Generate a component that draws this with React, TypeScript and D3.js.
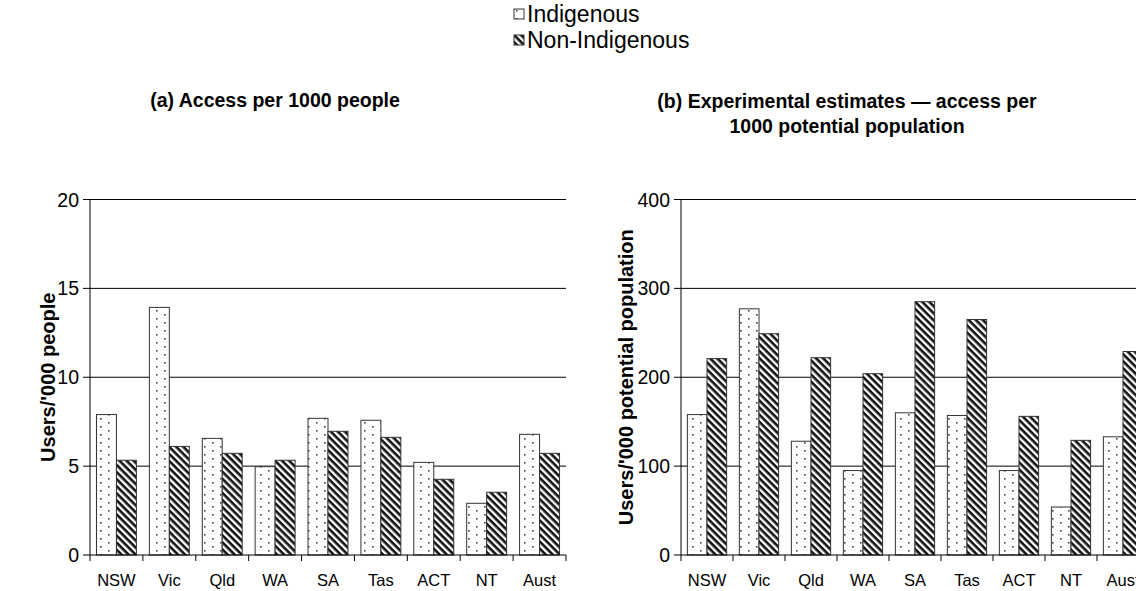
import React from "react";
import * as d3 from "d3";

const categories = ["NSW", "Vic", "Qld", "WA", "SA", "Tas", "ACT", "NT", "Aust"];
const seriesNames = ["Indigenous", "Non-Indigenous"];

const accessIndigenous = [7.9, 13.93, 6.56, 4.97, 7.69, 7.58, 5.21, 2.91, 6.79];
const accessNonIndigenous = [5.33, 6.11, 5.72, 5.33, 6.96, 6.62, 4.26, 3.53, 5.72];
const accessTicks = [0, 5, 10, 15, 20];

const potentialIndigenous = [158, 277, 128, 95, 160, 157, 95, 54, 133];
const potentialNonIndigenous = [221, 249, 222, 204, 285, 265, 156, 129, 229];
const potentialTicks = [0, 100, 200, 300, 400];

const FONT = "'Liberation Sans', Arial, sans-serif";

type PanelProps = {
  x0: number;
  x1: number;
  top: number;
  bottom: number;
  max: number;
  ticks: number[];
  a: number[];
  b: number[];
  title: string[];
  titleX: number;
  titleY: number;
  yLabel: string;
  yLabelX: number;
};

function Panel(p: PanelProps) {
  const y = d3.scaleLinear().domain([0, p.max]).range([p.bottom, p.top]);
  const x = d3
    .scaleBand<string>()
    .domain(categories)
    .range([p.x0, p.x1])
    .paddingInner(0.245)
    .paddingOuter(0.1225);
  const xs = d3.scaleBand<string>().domain(seriesNames).range([0, x.bandwidth()]);
  const step = x.step();
  const fills = ["url(#dots)", "url(#hatch)"];
  const data = [p.a, p.b];
  return (
    <g>
      {p.title.map((t, i) => (
        <text
          key={i}
          x={p.titleX}
          y={p.titleY + i * 25}
          textAnchor="middle"
          fontFamily={FONT}
          fontWeight="bold"
          fontSize={19.5}
        >
          {t}
        </text>
      ))}
      {p.ticks.map((t) => (
        <g key={t}>
          {t > 0 && (
            <line x1={p.x0} x2={p.x1} y1={y(t)} y2={y(t)} stroke="#000" strokeWidth={1} />
          )}
          <line x1={p.x0 - 7} x2={p.x0} y1={y(t)} y2={y(t)} stroke="#000" strokeWidth={1} />
          <text
            x={p.x0 - 11}
            y={y(t)}
            dy="0.36em"
            textAnchor="end"
            fontFamily={FONT}
            fontSize={19.5}
          >
            {t}
          </text>
        </g>
      ))}
      {categories.map((c, i) =>
        data.map((arr, s) => {
          const bx = (x(c) as number) + (xs(seriesNames[s]) as number);
          return (
            <rect
              key={c + s}
              x={bx}
              y={y(arr[i])}
              width={xs.bandwidth()}
              height={p.bottom - y(arr[i])}
              fill={fills[s]}
              stroke="#333"
              strokeWidth={1}
            />
          );
        })
      )}
      <line x1={p.x0} x2={p.x0} y1={p.top} y2={p.bottom} stroke="#000" strokeWidth={1} />
      <line x1={p.x0} x2={p.x1} y1={p.bottom} y2={p.bottom} stroke="#000" strokeWidth={1} />
      {d3.range(categories.length + 1).map((i) => (
        <line
          key={i}
          x1={p.x0 + i * step}
          x2={p.x0 + i * step}
          y1={p.bottom}
          y2={p.bottom + 6}
          stroke="#000"
          strokeWidth={1}
        />
      ))}
      {categories.map((c) => (
        <text
          key={c}
          x={(x(c) as number) + x.bandwidth() / 2}
          y={586}
          textAnchor="middle"
          fontFamily={FONT}
          fontSize={16.5}
        >
          {c}
        </text>
      ))}
      <text
        transform={`translate(${p.yLabelX},${(p.top + p.bottom) / 2}) rotate(-90)`}
        textAnchor="middle"
        fontFamily={FONT}
        fontWeight="bold"
        fontSize={20}
      >
        {p.yLabel}
      </text>
    </g>
  );
}

export default function App() {
  return (
    <svg
      width={1136}
      height={591}
      style={{ position: "absolute", left: 0, top: 0, background: "#fff" }}
    >
      <defs>
        <pattern id="dots" width={16} height={8} patternUnits="userSpaceOnUse">
          <rect width={16} height={8} fill="#fff" />
          <rect x={4} y={2} width={1.6} height={1.6} fill="#444" />
          <rect x={12} y={6} width={1.6} height={1.6} fill="#444" />
        </pattern>
        <pattern
          id="hatch"
          width={5}
          height={5}
          patternUnits="userSpaceOnUse"
          patternTransform="rotate(45)"
        >
          <rect width={5} height={5} fill="#fff" />
          <rect width={5} height={2.6} fill="#111" />
        </pattern>
      </defs>
      <rect width={1136} height={591} fill="#fff" />
      {/* legend */}
      <rect x={514} y={9} width={10} height={10} fill="url(#dots)" stroke="#333" />
      <text x={527} y={22} fontFamily={FONT} fontSize={23}>
        Indigenous
      </text>
      <rect x={514} y={35} width={10} height={10} fill="url(#hatch)" stroke="#333" />
      <text x={527} y={48} fontFamily={FONT} fontSize={23}>
        Non-Indigenous
      </text>
      <Panel
        x0={90}
        x1={566}
        top={199.5}
        bottom={555}
        max={20}
        ticks={accessTicks}
        a={accessIndigenous}
        b={accessNonIndigenous}
        title={["(a) Access per 1000 people"]}
        titleX={275}
        titleY={107}
        yLabel="Users/'000 people"
        yLabelX={55}
      />
      <Panel
        x0={681}
        x1={1149}
        top={199.5}
        bottom={555}
        max={400}
        ticks={potentialTicks}
        a={potentialIndigenous}
        b={potentialNonIndigenous}
        title={["(b) Experimental estimates \u2014 access per", "1000 potential population"]}
        titleX={847}
        titleY={108}
        yLabel="Users/'000 potential population"
        yLabelX={633}
      />
    </svg>
  );
}
